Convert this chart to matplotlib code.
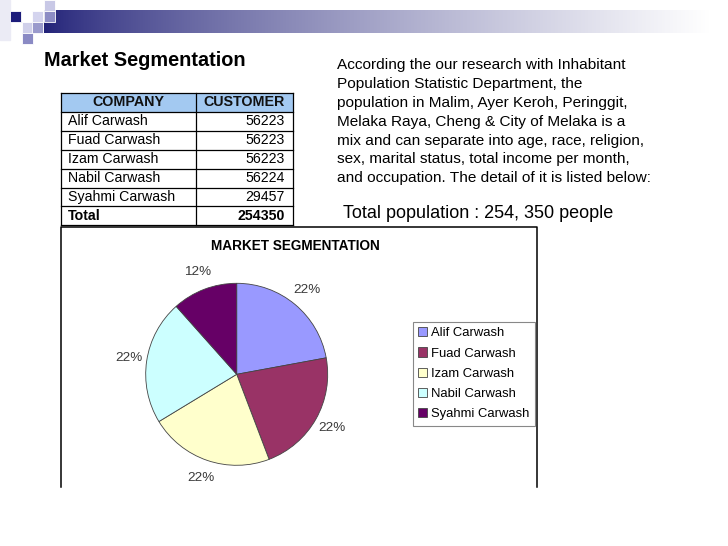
import numpy as np
import matplotlib
matplotlib.use('Agg')
import matplotlib.pyplot as plt
from matplotlib.patches import Rectangle

plt.rcParams['font.family'] = ['Liberation Sans', 'DejaVu Sans']

companies = ['Alif Carwash', 'Fuad Carwash', 'Izam Carwash', 'Nabil Carwash', 'Syahmi Carwash']
customers = [56223, 56223, 56223, 56224, 29457]
total = 254350
colors = ['#9999ff', '#993366', '#ffffcc', '#ccffff', '#660066']

paragraph = [
    'According the our research with Inhabitant',
    'Population Statistic Department, the',
    'population in Malim, Ayer Keroh, Peringgit,',
    'Melaka Raya, Cheng & City of Melaka is a',
    'mix and can separate into age, race, religion,',
    'sex, marital status, total income per month,',
    'and occupation. The detail of it is listed below:',
]

W, H = 728, 546
fig = plt.figure(figsize=(W / 100, H / 100), dpi=100)
bg = fig.add_axes([0, 0, 1, 1])
bg.set_xlim(0, W)
bg.set_ylim(H, 0)
bg.axis('off')

# decoration top-left: gradient band + squares
t = np.linspace(0, 1, 400) ** 0.75
navy = np.array([0.13, 0.13, 0.47])
grad = navy[None, :] * (1 - t[:, None]) + np.ones(3)[None, :] * t[:, None]
bg.imshow(grad[None, :, :], extent=(44, 710, 33, 10), aspect='auto', zorder=1)
bg.add_patch(Rectangle((0, 0), 10, 40, color='#ebebf5', zorder=2))
sq = [(10, 11, '#1c1c7a'), (44, 0, '#c8c8e6'), (32, 11, '#d4d4ee'), (44, 11, '#8c8cc4'),
      (22, 22, '#d0d0ea'), (32, 22, '#9a9acc'), (22, 33, '#8a8ac4')]
for x0, y0, c in sq:
    bg.add_patch(Rectangle((x0, y0), 11, 11, facecolor=c, edgecolor='white', lw=0.6, zorder=3))

bg.text(44, 60, 'Market Segmentation', fontsize=14.3, fontweight='bold', va='center', ha='left')

# table
x_left, x_mid, x_right = 61, 196, 293
y_top, rh = 93, 18.9
rows = [(c, str(v)) for c, v in zip(companies, customers)] + [('Total', str(total))]
bg.add_patch(Rectangle((x_left, y_top), x_right - x_left, rh, facecolor='#a3c9f1', edgecolor='none', zorder=2))
for i in range(len(rows) + 2):
    y = y_top + i * rh
    bg.plot([x_left, x_right], [y, y], color='black', lw=0.9, zorder=3)
for x in (x_left, x_mid, x_right):
    bg.plot([x, x], [y_top, y_top + (len(rows) + 1) * rh], color='black', lw=0.9, zorder=3)
bg.text((x_left + x_mid) / 2, y_top + rh / 2, 'COMPANY', fontsize=10.3, fontweight='bold', ha='center', va='center', color='#111111')
bg.text((x_mid + x_right) / 2, y_top + rh / 2, 'CUSTOMER', fontsize=10.3, fontweight='bold', ha='center', va='center', color='#111111')
for i, (name, val) in enumerate(rows):
    y = y_top + (i + 1.5) * rh
    fw = 'bold' if name == 'Total' else 'normal'
    bg.text(x_left + 7, y, name, fontsize=10.2, fontweight=fw, ha='left', va='center')
    bg.text(x_right - 8, y, val, fontsize=10.2, fontweight=fw, ha='right', va='center')

# paragraph
for i, line in enumerate(paragraph):
    bg.text(337, 65 + i * 18.9, line, fontsize=11.1, ha='left', va='center')
bg.text(343, 213, 'Total population : 254, 350 people', fontsize=13, ha='left', va='center')

# chart frame
fx0, fx1, fy0, fy1 = 61, 537, 227, 487
bg.plot([fx0, fx0, fx1, fx1], [fy1, fy0, fy0, fy1], color='black', lw=1.1, zorder=3)
bg.text(295, 246, 'MARKET SEGMENTATION', fontsize=9.8, fontweight='bold', ha='center', va='center')

# pie
cx, cy, r = 236.7, 374.3, 91
half = 1.25 * r
ax = fig.add_axes([(cx - half) / W, 1 - (cy + half) / H, 2 * half / W, 2 * half / H])
wedges, texts, autotexts = ax.pie(customers, colors=colors, startangle=90, counterclock=False,
                                  autopct='%1.0f%%', pctdistance=1.2,
                                  wedgeprops=dict(edgecolor='#444444', linewidth=0.6),
                                  textprops=dict(fontsize=9.7, color='#3a3a3a'))
ax.set_xlim(-1.25, 1.25)
ax.set_ylim(-1.25, 1.25)
ax.set_aspect('equal')

leg = ax.legend(wedges, companies, loc='upper left', bbox_to_anchor=(413 / W, 1 - 322 / H),
                bbox_transform=fig.transFigure, borderaxespad=0, fancybox=False,
                edgecolor='#888888', fontsize=9.4, handlelength=0.7, handleheight=0.7,
                handletextpad=0.3, labelspacing=0.62, borderpad=0.4, framealpha=1)
leg.get_frame().set_linewidth(0.8)

fig.savefig('out.png', dpi=100)
